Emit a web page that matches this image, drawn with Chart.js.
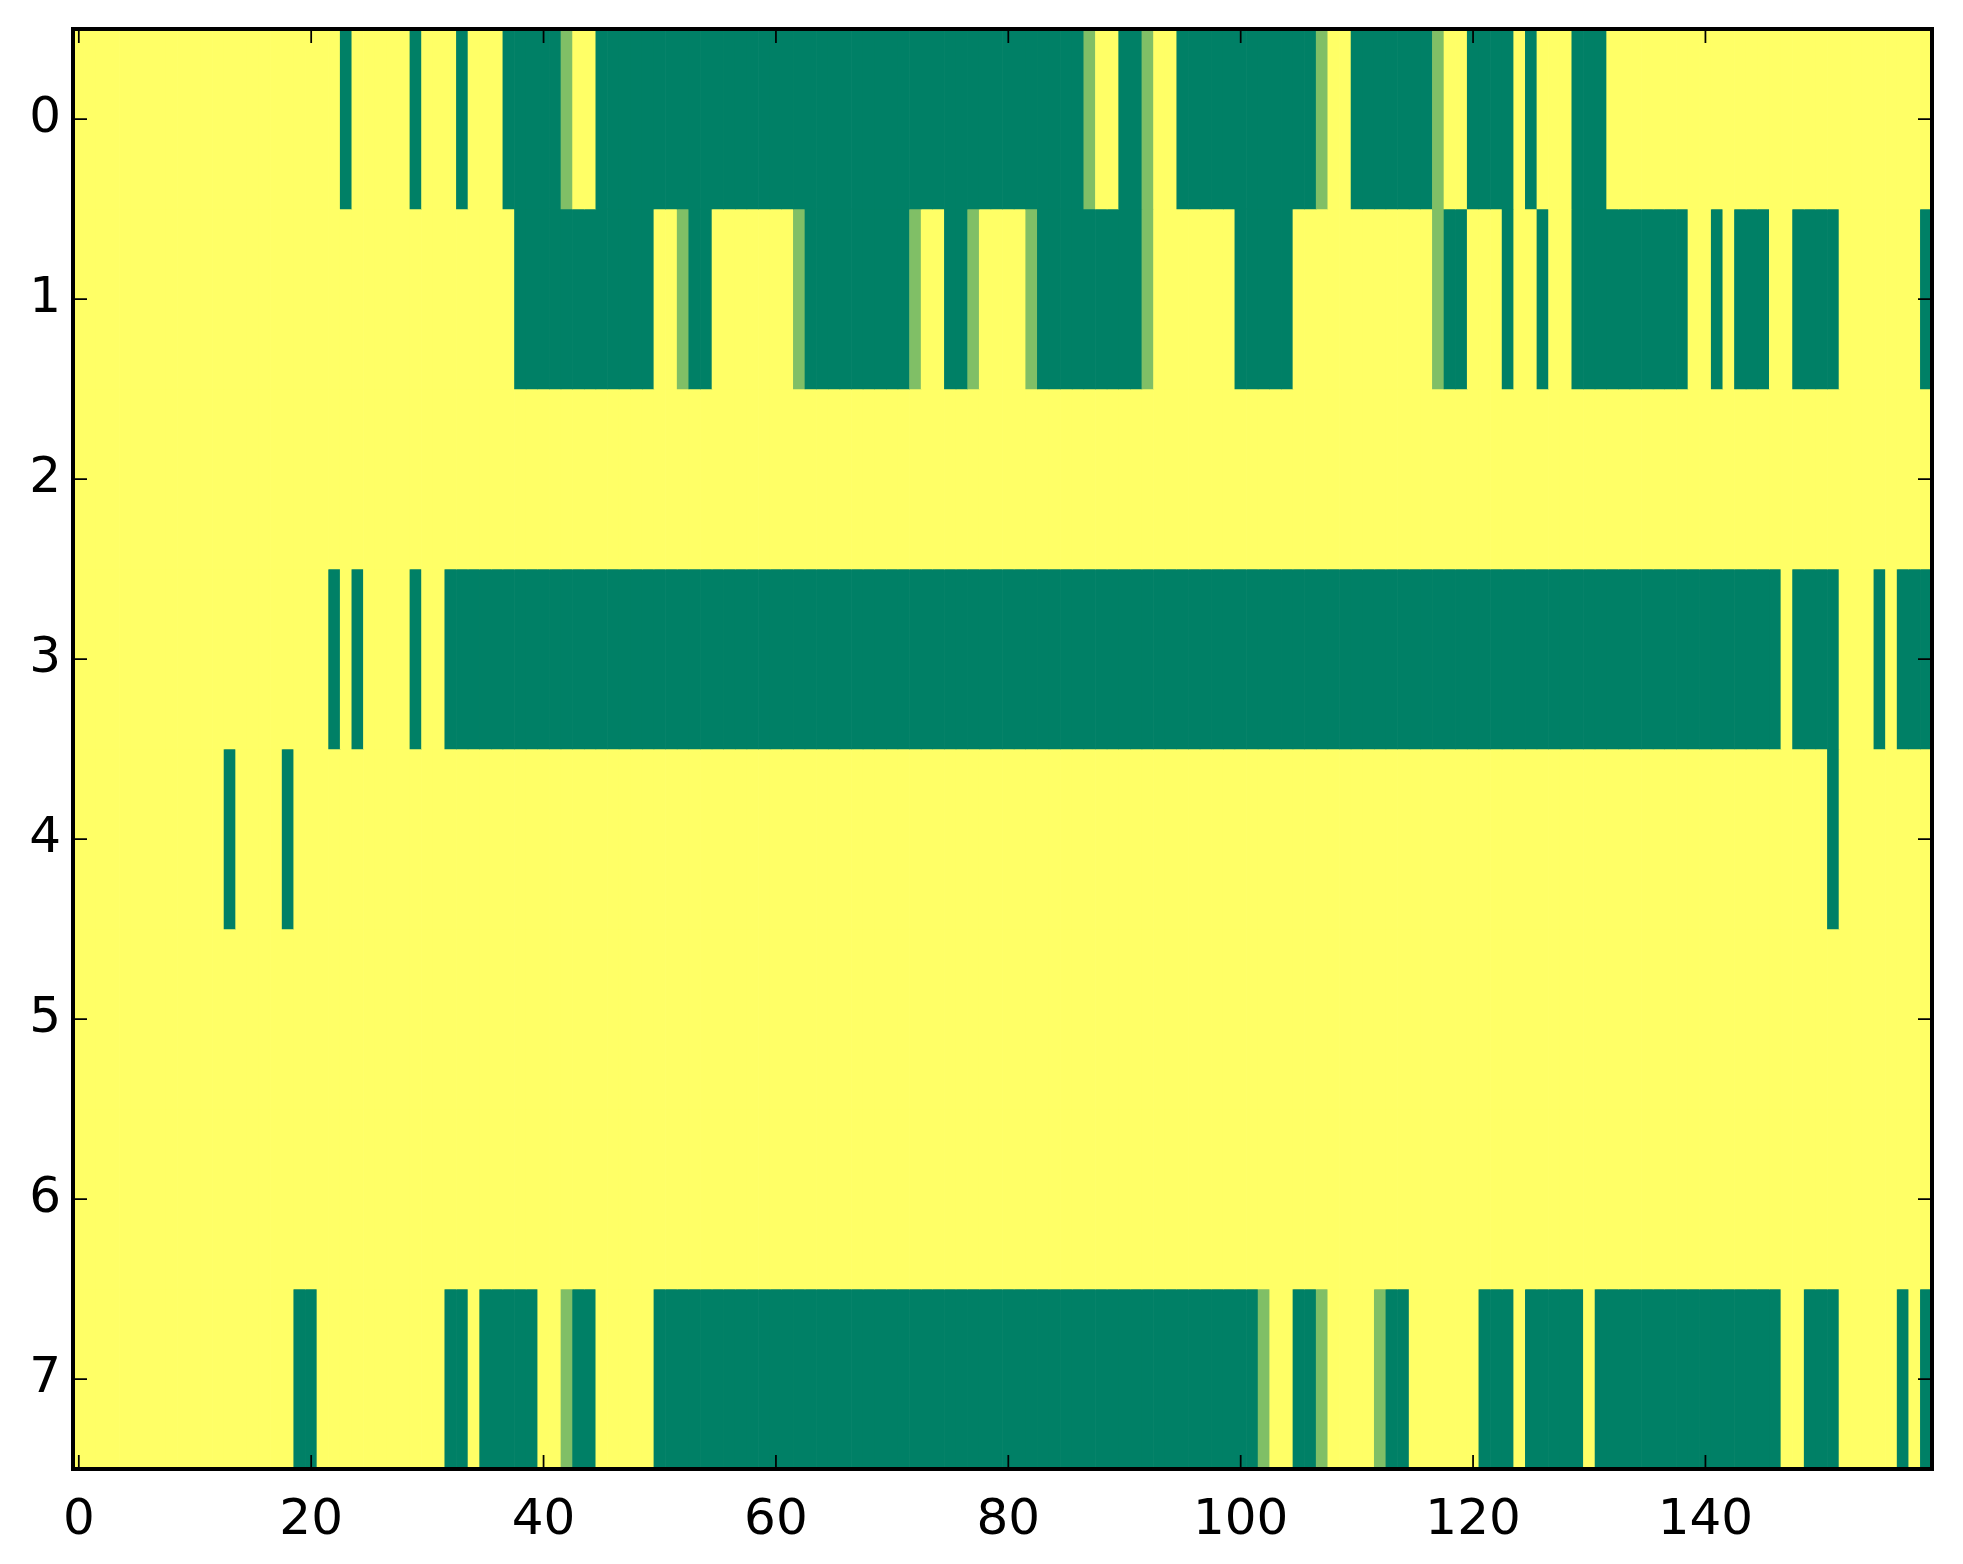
<!DOCTYPE html>
<html>
<head>
<meta charset="utf-8">
<script src="https://cdn.jsdelivr.net/npm/chart.js@4.4.1/dist/chart.umd.min.js"></script>
<style>
  html, body { margin: 0; padding: 0; background: #fff; }
  #wrap { width: 1963px; height: 1564px; position: relative; }
</style>
</head>
<body>
<div id="wrap"><canvas id="heat"></canvas></div>
<script>
// cell levels per row, 160 columns each (0 = dark green, 1 = light green, 2 = yellow)
const row0 = [
  2,2,2,2,2,2,2,2,2,2, 2,2,2,2,2,2,2,2,2,2,
  2,2,2,0,2,2,2,2,2,0, 2,2,2,0,2,2,2,0,0,0,
  0,0,1,2,2,0,0,0,0,0, 0,0,0,0,0,0,0,0,0,0,
  0,0,0,0,0,0,0,0,0,0, 0,0,0,0,0,0,0,0,0,0,
  0,0,0,0,0,0,0,1,2,2, 0,0,1,2,2,0,0,0,0,0,
  0,0,0,0,0,0,0,1,2,2, 0,0,0,0,0,0,0,1,2,2,
  0,0,0,0,2,0,2,2,2,0, 0,0,2,2,2,2,2,2,2,2,
  2,2,2,2,2,2,2,2,2,2, 2,2,2,2,2,2,2,2,2,2
];
const row1 = [
  2,2,2,2,2,2,2,2,2,2, 2,2,2,2,2,2,2,2,2,2,
  2,2,2,2,2,2,2,2,2,2, 2,2,2,2,2,2,2,2,0,0,
  0,0,0,0,0,0,0,0,0,0, 2,2,1,0,0,2,2,2,2,2,
  2,2,1,0,0,0,0,0,0,0, 0,0,1,2,2,0,0,1,2,2,
  2,2,1,0,0,0,0,0,0,0, 0,0,1,2,2,2,2,2,2,2,
  0,0,0,0,0,2,2,2,2,2, 2,2,2,2,2,2,2,1,0,0,
  2,2,2,0,2,2,0,2,2,0, 0,0,0,0,0,0,0,0,0,2,
  2,0,2,0,0,0,2,2,0,0, 0,0,2,2,2,2,2,2,2,0
];
const row2 = [
  2,2,2,2,2,2,2,2,2,2, 2,2,2,2,2,2,2,2,2,2,
  2,2,2,2,2,2,2,2,2,2, 2,2,2,2,2,2,2,2,2,2,
  2,2,2,2,2,2,2,2,2,2, 2,2,2,2,2,2,2,2,2,2,
  2,2,2,2,2,2,2,2,2,2, 2,2,2,2,2,2,2,2,2,2,
  2,2,2,2,2,2,2,2,2,2, 2,2,2,2,2,2,2,2,2,2,
  2,2,2,2,2,2,2,2,2,2, 2,2,2,2,2,2,2,2,2,2,
  2,2,2,2,2,2,2,2,2,2, 2,2,2,2,2,2,2,2,2,2,
  2,2,2,2,2,2,2,2,2,2, 2,2,2,2,2,2,2,2,2,2
];
const row3 = [
  2,2,2,2,2,2,2,2,2,2, 2,2,2,2,2,2,2,2,2,2,
  2,2,0,2,0,2,2,2,2,0, 2,2,0,0,0,0,0,0,0,0,
  0,0,0,0,0,0,0,0,0,0, 0,0,0,0,0,0,0,0,0,0,
  0,0,0,0,0,0,0,0,0,0, 0,0,0,0,0,0,0,0,0,0,
  0,0,0,0,0,0,0,0,0,0, 0,0,0,0,0,0,0,0,0,0,
  0,0,0,0,0,0,0,0,0,0, 0,0,0,0,0,0,0,0,0,0,
  0,0,0,0,0,0,0,0,0,0, 0,0,0,0,0,0,0,0,0,0,
  0,0,0,0,0,0,0,2,0,0, 0,0,2,2,2,0,2,0,0,0
];
const row4 = [
  2,2,2,2,2,2,2,2,2,2, 2,2,2,0,2,2,2,2,0,2,
  2,2,2,2,2,2,2,2,2,2, 2,2,2,2,2,2,2,2,2,2,
  2,2,2,2,2,2,2,2,2,2, 2,2,2,2,2,2,2,2,2,2,
  2,2,2,2,2,2,2,2,2,2, 2,2,2,2,2,2,2,2,2,2,
  2,2,2,2,2,2,2,2,2,2, 2,2,2,2,2,2,2,2,2,2,
  2,2,2,2,2,2,2,2,2,2, 2,2,2,2,2,2,2,2,2,2,
  2,2,2,2,2,2,2,2,2,2, 2,2,2,2,2,2,2,2,2,2,
  2,2,2,2,2,2,2,2,2,2, 2,0,2,2,2,2,2,2,2,2
];
const row5 = [
  2,2,2,2,2,2,2,2,2,2, 2,2,2,2,2,2,2,2,2,2,
  2,2,2,2,2,2,2,2,2,2, 2,2,2,2,2,2,2,2,2,2,
  2,2,2,2,2,2,2,2,2,2, 2,2,2,2,2,2,2,2,2,2,
  2,2,2,2,2,2,2,2,2,2, 2,2,2,2,2,2,2,2,2,2,
  2,2,2,2,2,2,2,2,2,2, 2,2,2,2,2,2,2,2,2,2,
  2,2,2,2,2,2,2,2,2,2, 2,2,2,2,2,2,2,2,2,2,
  2,2,2,2,2,2,2,2,2,2, 2,2,2,2,2,2,2,2,2,2,
  2,2,2,2,2,2,2,2,2,2, 2,2,2,2,2,2,2,2,2,2
];
const row6 = [
  2,2,2,2,2,2,2,2,2,2, 2,2,2,2,2,2,2,2,2,2,
  2,2,2,2,2,2,2,2,2,2, 2,2,2,2,2,2,2,2,2,2,
  2,2,2,2,2,2,2,2,2,2, 2,2,2,2,2,2,2,2,2,2,
  2,2,2,2,2,2,2,2,2,2, 2,2,2,2,2,2,2,2,2,2,
  2,2,2,2,2,2,2,2,2,2, 2,2,2,2,2,2,2,2,2,2,
  2,2,2,2,2,2,2,2,2,2, 2,2,2,2,2,2,2,2,2,2,
  2,2,2,2,2,2,2,2,2,2, 2,2,2,2,2,2,2,2,2,2,
  2,2,2,2,2,2,2,2,2,2, 2,2,2,2,2,2,2,2,2,2
];
const row7 = [
  2,2,2,2,2,2,2,2,2,2, 2,2,2,2,2,2,2,2,2,0,
  0,2,2,2,2,2,2,2,2,2, 2,2,0,0,2,0,0,0,0,0,
  2,2,1,0,0,2,2,2,2,2, 0,0,0,0,0,0,0,0,0,0,
  0,0,0,0,0,0,0,0,0,0, 0,0,0,0,0,0,0,0,0,0,
  0,0,0,0,0,0,0,0,0,0, 0,0,0,0,0,0,0,0,0,0,
  0,0,1,2,2,0,0,1,2,2, 2,2,1,0,0,2,2,2,2,2,
  2,0,0,0,2,0,0,0,0,0, 2,0,0,0,0,0,0,0,0,0,
  0,0,0,0,0,0,0,2,2,0, 0,0,2,2,2,2,2,0,2,0
];
const rows = [row0, row1, row2, row3, row4, row5, row6, row7];

// summer colormap at 0, 0.5, 1
const levelColors = ['#008066', '#80bf66', '#ffff66'];

const xTicks = [0, 20, 40, 60, 80, 100, 120, 140];
const yTicks = [0, 1, 2, 3, 4, 5, 6, 7];

// one dataset per row, one floating bar per cell
const datasets = rows.map((vals, r) => ({
  data: vals.map((v, c) => ({ x: c, y: [r - 0.5, r + 0.5] })),
  backgroundColor: vals.map(v => levelColors[v]),
  borderWidth: 0,
  barPercentage: 1,
  categoryPercentage: 1,
  grouped: false
}));

// axes frame with inward ticks on all four sides
const frame = {
  id: 'frame',
  afterDatasetsDraw(chart) {
    const { ctx, chartArea: a, scales: { x, y } } = chart;
    const len = 14;
    ctx.save();
    ctx.strokeStyle = '#000';
    ctx.lineWidth = 1.75;
    ctx.beginPath();
    xTicks.forEach(v => {
      const px = x.getPixelForValue(v);
      ctx.moveTo(px, a.bottom); ctx.lineTo(px, a.bottom - len);
      ctx.moveTo(px, a.top); ctx.lineTo(px, a.top + len);
    });
    yTicks.forEach(v => {
      const py = y.getPixelForValue(v);
      ctx.moveTo(a.left, py); ctx.lineTo(a.left + len, py);
      ctx.moveTo(a.right, py); ctx.lineTo(a.right - len, py);
    });
    ctx.stroke();
    ctx.lineWidth = 4;
    ctx.strokeRect(a.left, a.top, a.right - a.left, a.bottom - a.top);
    ctx.restore();
  }
};

const tickFont = { family: 'DejaVu Sans', size: 50 };

new Chart(document.getElementById('heat'), {
  type: 'bar',
  data: { datasets },
  options: {
    responsive: true,
    maintainAspectRatio: false,
    devicePixelRatio: 1,
    animation: false,
    layout: { padding: { top: 29, right: 31, left: 0, bottom: 0 } },
    plugins: {
      legend: { display: false },
      tooltip: { enabled: false }
    },
    scales: {
      x: {
        type: 'linear',
        min: -0.5,
        max: 159.5,
        offset: false,
        grid: { display: false, drawTicks: false },
        border: { display: false },
        ticks: { font: tickFont, color: '#000', padding: 22, maxRotation: 0 },
        afterBuildTicks: s => { s.ticks = xTicks.map(v => ({ value: v })); },
        afterFit: s => { s.height = 95; s.paddingLeft = 0; s.paddingRight = 0; }
      },
      y: {
        type: 'linear',
        reverse: true,
        min: -0.5,
        max: 7.5,
        stacked: false,
        grid: { display: false, drawTicks: false },
        border: { display: false },
        ticks: { font: tickFont, color: '#000', padding: 12 },
        afterBuildTicks: s => { s.ticks = yTicks.map(v => ({ value: v })); },
        afterFit: s => { s.width = 73; s.paddingTop = 0; s.paddingBottom = 0; }
      }
    }
  },
  plugins: [frame]
});
</script>
</body>
</html>
